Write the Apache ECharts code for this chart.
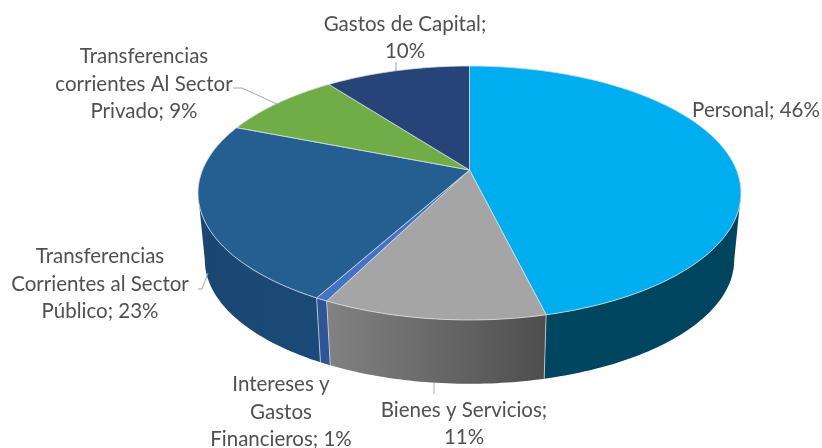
<!DOCTYPE html>
<html>
<head>
<meta charset="utf-8">
<script src="https://cdn.jsdelivr.net/npm/echarts@6/dist/echarts.min.js"></script>
<style>
html, body { margin: 0; padding: 0; background: #fff; }
#main { width: 822px; height: 448px; }
</style>
</head>
<body>
<div id="main"></div>
<script>
const categories = ['Personal', 'Bienes y Servicios', 'Intereses y\nGastos\nFinancieros', 'Transferencias\nCorrientes al Sector\nPúblico', 'Transferencias\ncorrientes Al Sector\nPrivado', 'Gastos de Capital'];
const shares = [46.2, 11.2, 0.6, 23, 8.7, 10.3];
const separators = [' ', '\n', ' ', ' ', ' ', '\n'];

const topColors = ['#00AEEF', '#A5A5A5', '#4472C4', '#255E91', '#70AD47', '#264478'];
const wallColors = [['#004660', '#00445E'], ['#828282', '#4E4E4E'], ['#2F5597', '#2F5597'], ['#1A4672', '#1B4A78'], ['#4A7A2E', '#4A7A2E'], ['#1A3158', '#1A3158']];

// label centres and leader lines, in page pixels
const labelPos = [[756, 110], [464, 424], [281, 412], [100, 284], [144, 84], [405, 38]];
const leaders = [
    null,
    [[434, 383], [434, 394]],
    null,
    [[198, 289], [202, 289], [208, 273]],
    [[233, 88], [242, 88], [277, 104]],
    [[396, 62], [396, 71]]
];

// perspective of the disc: apex sits above the centre of the ellipse
const cx = 469.5, apexY = 170, ka = 92.05, kc = -0.181, kx = 267;
const wallScale = 0.975, wallCy = 260, topCy = 193;
// only this part of the rim has a visible wall
const frontFrom = Math.acos(kc) * 180 / Math.PI, frontTo = 360 - frontFrom;

const total = shares.reduce((a, b) => a + b, 0);
const starts = [];
shares.reduce((sum, v, i) => { starts[i] = sum; return sum + v; }, 0);

function rim(deg) {
    const r = deg * Math.PI / 180;
    const u = Math.sin(r), v = -Math.cos(r);
    const d = kc * v + 1;
    return [cx + kx * u / d, (ka * v + apexY) / d];
}
function lower(p) {
    return [cx + (p[0] - cx) * wallScale, wallCy + (p[1] - topCy) * wallScale];
}
function arcBetween(a0, a1) {
    const n = Math.max(2, Math.ceil(a1 - a0));
    const pts = [];
    for (let k = 0; k <= n; k++) pts.push(rim(a0 + (a1 - a0) * k / n));
    return pts;
}
function sliceAngles(i) {
    return [starts[i] / total * 360, (starts[i] + shares[i]) / total * 360];
}

function renderWall(params) {
    const i = params.dataIndex;
    const ang = sliceAngles(i);
    const a0 = Math.max(ang[0], frontFrom), a1 = Math.min(ang[1], frontTo);
    if (a1 <= a0) return null;
    const top = arcBetween(a0, a1);
    const bottom = top.map(lower);
    const children = [{
        type: 'polygon',
        shape: { points: top.concat(bottom.slice().reverse()) },
        style: {
            fill: new echarts.graphic.LinearGradient(0, 0, 1, 0, [
                { offset: 0, color: wallColors[i][0] },
                { offset: 1, color: wallColors[i][1] }
            ])
        }
    }];
    if (ang[0] >= frontFrom) {
        children.push({
            type: 'polyline',
            shape: { points: [top[0], bottom[0]] },
            style: { stroke: '#C9D6E2', lineWidth: 0.8, fill: null }
        });
    }
    return { type: 'group', children: children };
}

function renderTop(params) {
    const i = params.dataIndex;
    const ang = sliceAngles(i);
    return {
        type: 'polygon',
        shape: { points: [[cx, apexY]].concat(arcBetween(ang[0], ang[1])) },
        style: { fill: topColors[i], stroke: '#D5DEE6', lineWidth: 0.8, lineJoin: 'round' }
    };
}

function renderLabel(params) {
    const i = params.dataIndex;
    const children = [{
        type: 'text',
        x: labelPos[i][0],
        y: labelPos[i][1],
        style: {
            text: categories[i] + ';' + separators[i] + Math.round(shares[i]) + '%',
            fill: '#505050',
            font: '20.5px Lato',
            lineHeight: 27.5,
            align: 'center',
            verticalAlign: 'middle'
        }
    }];
    if (leaders[i]) {
        children.push({
            type: 'polyline',
            shape: { points: leaders[i] },
            style: { stroke: '#A6A6A6', lineWidth: 1, fill: null }
        });
    }
    return { type: 'group', children: children };
}

const chart = echarts.init(document.getElementById('main'));
chart.setOption({
    animation: false,
    series: [
        { type: 'custom', coordinateSystem: 'none', z: 1, data: shares, renderItem: renderWall },
        { type: 'custom', coordinateSystem: 'none', z: 2, data: shares, renderItem: renderTop },
        { type: 'custom', coordinateSystem: 'none', z: 3, data: shares, renderItem: renderLabel }
    ]
});
</script>
</body>
</html>
